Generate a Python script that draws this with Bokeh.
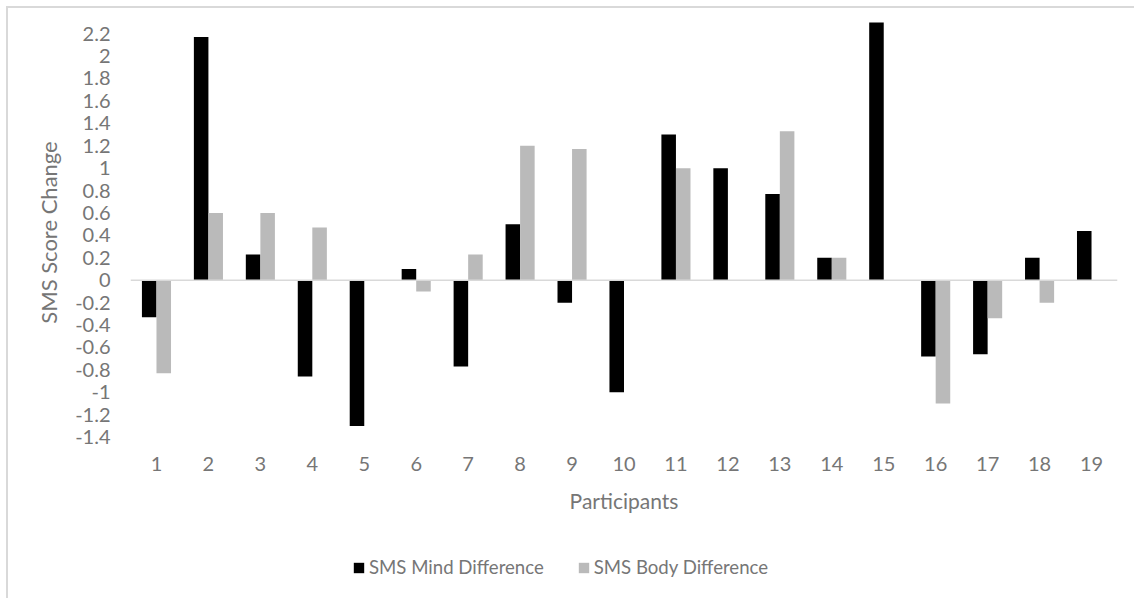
from bokeh.plotting import figure
from bokeh.layouts import column
from bokeh.models import FactorRange, Range1d, FixedTicker, Span, Legend, LegendItem
from bokeh.transform import dodge
from bokeh.embed import file_html
from bokeh.resources import INLINE

# Participants and per-participant score changes
participants = [str(i) for i in range(1, 20)]
mind_diff = [-0.33, 2.17, 0.23, -0.86, -1.30, 0.10, -0.77, 0.50, -0.20, -1.00,
             1.30, 1.00, 0.77, 0.20, 2.30, -0.68, -0.66, 0.20, 0.44]
body_diff = [-0.83, 0.60, 0.60, 0.47, 0.00, -0.10, 0.23, 1.20, 1.17, 0.00,
             1.00, 0.00, 1.33, 0.20, 0.00, -1.10, -0.34, -0.20, 0.00]

y_ticks = [-1.4, -1.2, -1.0, -0.8, -0.6, -0.4, -0.2, 0.0, 0.2, 0.4, 0.6,
           0.8, 1.0, 1.2, 1.4, 1.6, 1.8, 2.0, 2.2]
y_tick_labels = ["-1.4", "-1.2", "-1", "-0.8", "-0.6", "-0.4", "-0.2", "0", "0.2",
                 "0.4", "0.6", "0.8", "1", "1.2", "1.4", "1.6", "1.8", "2", "2.2"]

series_names = ["SMS Mind Difference", "SMS Body Difference"]
series_colors = ["black", "#bababa"]

FONT = "Lato"
TEXT_GRAY = "#767676"
BORDER = "2px solid #d9d9d9"

source = dict(p=participants, mind=mind_diff, body=body_diff)

# ---- main chart ----
p = figure(
    x_range=FactorRange(*participants),
    y_range=Range1d(-1.537, 2.3885),
    frame_width=985, frame_height=438,
    min_border_left=122, min_border_right=19,
    min_border_top=4, min_border_bottom=82,
    output_backend="svg", toolbar_location=None,
)
p.margin = (6, 0, 0, 6)
p.styles = {"border-left": BORDER, "border-top": BORDER}

p.vbar(x=dodge("p", -0.14, range=p.x_range), top="mind", width=0.28,
       source=source, fill_color=series_colors[0], line_color=None)
p.vbar(x=dodge("p", 0.14, range=p.x_range), top="body", width=0.28,
       source=source, fill_color=series_colors[1], line_color=None)

p.add_layout(Span(location=0, dimension="width", line_color="#d9d9d9", line_width=1.5))

p.outline_line_color = None
p.xgrid.visible = False
p.ygrid.visible = False

# y axis
p.yaxis.ticker = FixedTicker(ticks=y_ticks)
p.yaxis.major_label_overrides = dict(zip(y_ticks, y_tick_labels))
p.yaxis.axis_line_color = None
p.yaxis.major_tick_line_color = None
p.yaxis.minor_tick_line_color = None
p.yaxis.major_tick_out = 0
p.yaxis.major_label_standoff = 20
p.yaxis.axis_label = "SMS Score Change"
p.yaxis.axis_label_standoff = 10

# x axis
p.xaxis.axis_line_color = None
p.xaxis.major_tick_line_color = None
p.xaxis.major_tick_out = 0
p.xaxis.major_label_standoff = 4
p.xaxis.axis_label = "Participants"
p.xaxis.axis_label_standoff = 14

for ax in (p.xaxis[0], p.yaxis[0]):
    ax.major_label_text_font = FONT
    ax.major_label_text_font_size = "20px"
    ax.major_label_text_color = TEXT_GRAY
    ax.axis_label_text_font = FONT
    ax.axis_label_text_font_size = "21px"
    ax.axis_label_text_color = TEXT_GRAY
    ax.axis_label_text_font_style = "normal"
p.yaxis.axis_label_text_font_size = "22px"

# ---- legend strip under the chart (its frame lines up with the chart's) ----
lg = figure(
    width=1126, height=66,
    x_range=Range1d(0, 1), y_range=Range1d(0, 1),
    x_axis_location=None, y_axis_location=None,
    min_border=0, min_border_left=0, min_border_right=0,
    min_border_top=0, min_border_bottom=0,
    output_backend="svg", toolbar_location=None,
)
lg.margin = (0, 0, 0, 6)
lg.styles = {"border-left": BORDER}
lg.outline_line_color = None
lg.xgrid.visible = False
lg.ygrid.visible = False

# swatch renderers sit outside the visible range; only their legend entries show
swatches = [lg.quad(left=[-6], right=[-5], bottom=[-6], top=[-5],
                    fill_color=c, line_color=None)
            for c in series_colors]

legend = Legend(
    items=[LegendItem(label=n, renderers=[r]) for n, r in zip(series_names, swatches)],
    orientation="horizontal",
    location=(222, 20),
    margin=0, padding=0, spacing=33,
    glyph_width=13, glyph_height=13, label_standoff=4,
    label_text_font=FONT, label_text_font_size="18.6px",
    label_text_color=TEXT_GRAY,
    border_line_color=None, background_fill_alpha=0,
)
lg.add_layout(legend, "center")

layout = column(p, lg, spacing=0)
open("out.html", "w").write(file_html(layout, INLINE))
